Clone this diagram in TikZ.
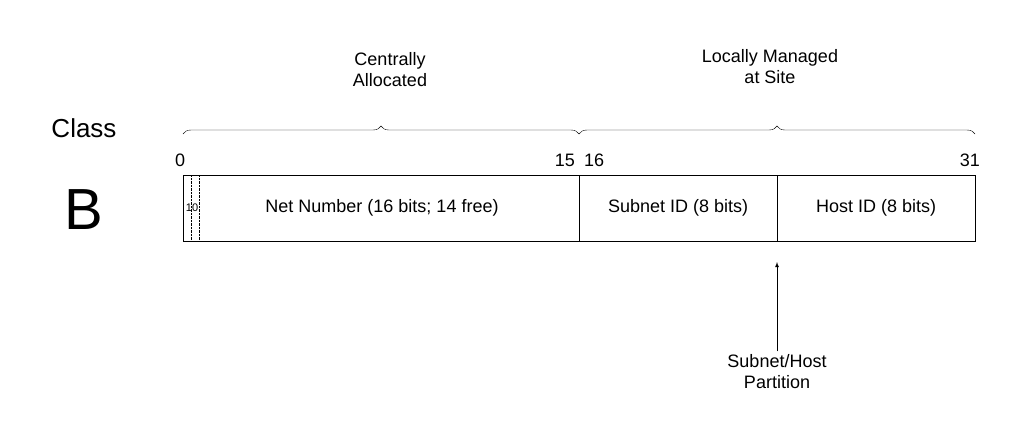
\documentclass[tikz,border=0pt]{standalone}
\usepackage{fontspec}
\setmainfont{Liberation Sans}
\usetikzlibrary{decorations.pathreplacing}
\tikzset{lbl/.style={font=\fontsize{18}{21}\selectfont,align=center},
  fld/.style={draw,minimum height=66pt,inner sep=0pt}}
\begin{document}
\begin{tikzpicture}[x=1pt,y=-1pt]
	\useasboundingbox (0,0) rectangle (1022,421);
	% fields
	\node[fld,minimum width=396pt,anchor=north west] (net) at (183,175) {};
	\node[fld,minimum width=198pt,anchor=north west] (sub) at (579,175) {};
	\node[fld,minimum width=198pt,anchor=north west] (host) at (777,175) {};
	\draw[densely dotted] (191,175) -- (191,241);
	\draw[densely dotted] (199,175) -- (199,241);
	\node[font=\fontsize{11}{12}\selectfont,inner sep=0pt] (pre) at (192,208) {10};
	\node[lbl] (nett) at (382,208) {Net Number (16 bits; 14 free)};
	\node[lbl] at (sub) {Subnet ID (8 bits)};
	\node[lbl] at (host) {Host ID (8 bits)};
	% bit numbers
	\node[lbl,anchor=south west,inner sep=0pt] (b0) at (175,167) {0};
	\node[lbl,anchor=south east,inner sep=0pt] (b15) at (575,167) {15};
	\node[lbl,anchor=south west,inner sep=0pt] (b16) at (584,167) {16};
	\node[lbl,anchor=south east,inner sep=0pt] (b31) at (980,167) {31};
	% braces
	\draw[decorate,decoration={brace,amplitude=8pt}] (183,134) -- (579,134);
	\draw[decorate,decoration={brace,amplitude=8pt}] (579,134) -- (975,134);
	\node[lbl] (cen) at (390,70) {Centrally\\Allocated};
	\node[lbl] (loc) at (770,67) {Locally Managed\\at Site};
	% class
	\node[font=\fontsize{26}{30}\selectfont] (cls) at (84,128) {Class};
	\node[font=\fontsize{58}{60}\selectfont] (B) at (84,210) {B};
	% partition
	\node[lbl] (part) at (777,372) {Subnet/Host\\Partition};
	\draw[-latex,thick] (part.north) -- (777,262);
\end{tikzpicture}
\end{document}
